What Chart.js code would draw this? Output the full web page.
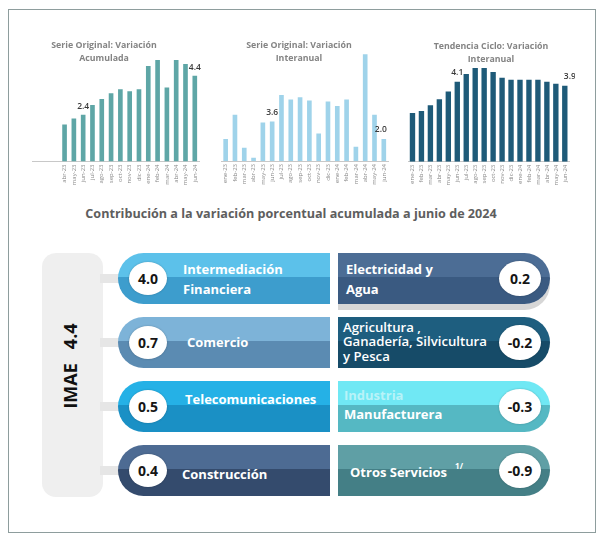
<!DOCTYPE html>
<html><head><meta charset="utf-8">
<script src="https://cdn.jsdelivr.net/npm/chart.js@4.4.0/dist/chart.umd.min.js"></script>
<style>
html,body{margin:0;padding:0;background:#fff;width:604px;height:546px;overflow:hidden;font-family:"Open Sans",sans-serif;}
#frame{position:absolute;left:8px;top:9px;width:588px;height:524px;border:1.5px solid #8e9d9d;box-sizing:border-box;}
.cw{position:absolute;}
.ttl{position:absolute;font-weight:700;color:#848484;font-size:8.8px;text-align:center;line-height:13px;white-space:nowrap;}
#maintitle{position:absolute;left:40px;width:502px;top:205px;text-align:center;font-weight:700;color:#5e5e5e;font-size:12.6px;line-height:18px;white-space:nowrap;}
#imae{position:absolute;left:42px;top:253px;width:61px;height:244px;background:#efefef;border-radius:14px;}
#imaeText{position:absolute;left:70px;top:366px;transform:translate(-50%,-50%) rotate(-90deg);font-weight:700;font-size:18px;color:#111;white-space:pre;}
.conn{position:absolute;left:100px;width:24px;height:9px;background:#e6e6e6;}
.pill{position:absolute;height:51px;width:212px;}
.pl{left:118px;border-radius:26px 0 0 26px;}
.pr{left:338px;border-radius:0 26px 26px 0;}
.ptxt{position:absolute;color:#fff;font-weight:700;font-size:13px;white-space:nowrap;}
.ell{position:absolute;background:#fff;border-radius:50%;display:flex;align-items:center;justify-content:center;font-weight:700;font-size:14px;color:#151515;box-shadow:0 0 2px rgba(0,0,0,0.25);}
sup{font-size:8px;position:relative;top:-3px;margin-left:8px;}
</style></head>
<body>
<div id="frame"></div>
<div class="cw" style="left:32px;top:40px;"><canvas id="c1" width="173" height="152"></canvas></div>
<div class="cw" style="left:221px;top:40px;"><canvas id="c2" width="173" height="152"></canvas></div>
<div class="cw" style="left:408px;top:40px;"><canvas id="c3" width="167" height="152"></canvas></div>
<div class="ttl" style="left:39px;width:130px;top:39px;">Serie Original: Variación<br>Acumulada</div>
<div class="ttl" style="left:234px;width:130px;top:39px;">Serie Original: Variación<br>Interanual</div>
<div class="ttl" style="left:426px;width:130px;top:40px;">Tendencia Ciclo: Variación<br>Interanual</div>
<div id="maintitle">Contribución a la variación porcentual acumulada a junio de 2024</div>
<div id="imae"></div>
<div id="imaeText"></div>
<div id="pills"></div>
<script>
// ---- data ----
const months = ["ene-23","feb-23","mar-23","abr-23","may-23","jun-23","jul-23","ago-23","sep-23","oct-23","nov-23","dic-23","ene-24","feb-24","mar-24","abr-24","may-24","jun-24"];
const accumValues = [null,null,null,1.9,2.2,2.4,2.9,3.2,3.5,3.7,3.6,3.7,4.9,5.2,3.8,5.2,5.0,4.4];
const interValues = [2.0,4.2,1.2,0.3,3.5,3.6,6.0,5.6,5.8,5.5,2.5,5.4,5.0,5.6,1.3,9.7,4.2,2.0];
const trendValues = [2.5,2.6,2.9,3.2,3.6,4.1,4.5,4.8,4.8,4.6,4.3,4.2,4.2,4.2,4.2,4.1,4.0,3.9];
const labelledIdx = [5,17];

const imaeLabel = "IMAE";
const imaeTotal = 4.4;
const leftSectors = [["Intermediación","Financiera"],["Comercio"],["Telecomunicaciones"],["Construcción"]];
const leftValues = [4.0,0.7,0.5,0.4];
const rightSectors = [["Electricidad y","Agua"],["Agricultura ,","Ganadería, Silvicultura","y Pesca"],["Industria","Manufacturera"],["Otros Servicios"]];
const rightValues = [0.2,-0.2,-0.3,-0.9];

// ---- charts ----
const valueLabels = {
  id:'valueLabels',
  afterDatasetsDraw(chart, args, opts){
    const ctx = chart.ctx, ds = chart.data.datasets[0];
    const xs = chart.scales.x, ys = chart.scales.y;
    ctx.save();
    ctx.font = '600 8.5px "Open Sans"';
    ctx.fillStyle = '#3a3a3a';
    ctx.textAlign = 'center';
    ctx.textBaseline = 'middle';
    opts.idx.forEach((i,k)=>{
      const v = ds.data[i];
      const x = xs.getPixelForValue(i) + (opts.dx ? opts.dx[k] : 0);
      const y = ys.getPixelForValue(v) - opts.gap;
      ctx.fillText(v.toFixed(1), x, y);
    });
    ctx.restore();
  }
};
function makeChart(id, values, color, ymax, xh, barPct, gap, dx){
  return new Chart(document.getElementById(id), {
    type:'bar',
    data:{labels:months, datasets:[{data:values, backgroundColor:color, borderWidth:0, categoryPercentage:1, barPercentage:barPct}]},
    options:{
      responsive:false, animation:false, devicePixelRatio:1,
      layout:{padding:0},
      plugins:{legend:{display:false}, tooltip:{enabled:false}, title:{display:false}, valueLabels:{idx:labelledIdx, gap:gap, dx:dx}},
      scales:{
        x:{grid:{display:false, drawTicks:false}, border:{display:true,color:'#c8c8c8',width:1},
           ticks:{font:{size:6, family:'"Open Sans"'}, color:'#8a8a8a', minRotation:90, maxRotation:90, autoSkip:false, padding:3,
             callback:function(val,i){ return values[i]===null ? '' : this.getLabelForValue(val); }},
           afterFit:(s)=>{ s.height = xh; }},
        y:{display:false, min:0, max:ymax}
      }
    },
    plugins:[valueLabels]
  });
}
makeChart('c1', accumValues, '#5ea6a6', 6.23, 30.5, 0.5, 8.5, [0,0]);
makeChart('c2', interValues, '#9fd3ea', 11, 31, 0.5, 9, [0,-3]);
makeChart('c3', trendValues, '#1e5a78', 6.24, 30.3, 0.6, 9, [0,5]);

// ---- contribution panel ----
document.getElementById('imaeText').textContent = imaeLabel + "   " + imaeTotal.toFixed(1);
const rowTops = [253,317,381,445];
const leftColors = [['#5cc1ea','#3d9dcd'],['#7db3d8','#5b8bb2'],['#25b1e6','#1a90c5'],['#4d6b93','#344b6d']];
const rightColors = [['#4c6d95','#3a5a81'],['#1e5e7f','#164b68'],['#70e8f4','#55b8c3'],['#5f9fa5','#447f86']];
const leftTxt = [{x:65,y:6,lh:20},{x:69,y:15,lh:20},{x:67,y:8,lh:20},{x:64,y:19,lh:20}];
const rightTxt = [{x:8,y:6,lh:20},{x:5,y:3,lh:14.3},{x:6,y:5,lh:19},{x:12,y:14,lh:20}];
const host = document.getElementById('pills');
function el(cls, style, html){ const d=document.createElement('div'); d.className=cls; Object.assign(d.style, style); if(html!==undefined) d.innerHTML=html; host.appendChild(d); return d; }
rowTops.forEach((t,i)=>{
  el('conn',{top:(t+21)+'px'});
  // left pill
  const lc = leftColors[i];
  const lp = el('pill pl',{top:t+'px',background:`linear-gradient(to bottom, ${lc[0]} 0%, ${lc[0]} 47%, ${lc[1]} 47%, ${lc[1]} 100%)`});
  const lt = document.createElement('div'); lt.className='ptxt';
  Object.assign(lt.style,{left:leftTxt[i].x+'px',top:leftTxt[i].y+'px',lineHeight:leftTxt[i].lh+'px'});
  lt.innerHTML = leftSectors[i].join('<br>'); lp.appendChild(lt);
  el('ell',{left:'129px',top:(t+9)+'px',width:'38px',height:'33px'}, leftValues[i].toFixed(1));
  // right pill
  const rc = rightColors[i];
  const rp = el('pill pr',{top:t+'px',background:`linear-gradient(to bottom, ${rc[0]} 0%, ${rc[0]} 47%, ${rc[1]} 47%, ${rc[1]} 100%)`});
  if(i===0) rp.style.boxShadow='0 6px 0 #d6d6d6';
  const rt = document.createElement('div'); rt.className='ptxt';
  Object.assign(rt.style,{left:rightTxt[i].x+'px',top:rightTxt[i].y+'px',lineHeight:rightTxt[i].lh+'px'});
  if(i===1){ rt.style.fontWeight='600'; rt.style.fontSize='13.2px'; }
  let html = rightSectors[i].map((s,k)=> (i===2&&k===0) ? `<span style="color:#b9f3f8">${s}</span>` : s).join('<br>');
  if(i===3) html += '<sup>1/</sup>';
  rt.innerHTML = html; rp.appendChild(rt);
  el('ell',{left:'499px',top:(t+8)+'px',width:'42px',height:'35px'}, rightValues[i].toFixed(1));
});
</script>
</body></html>
